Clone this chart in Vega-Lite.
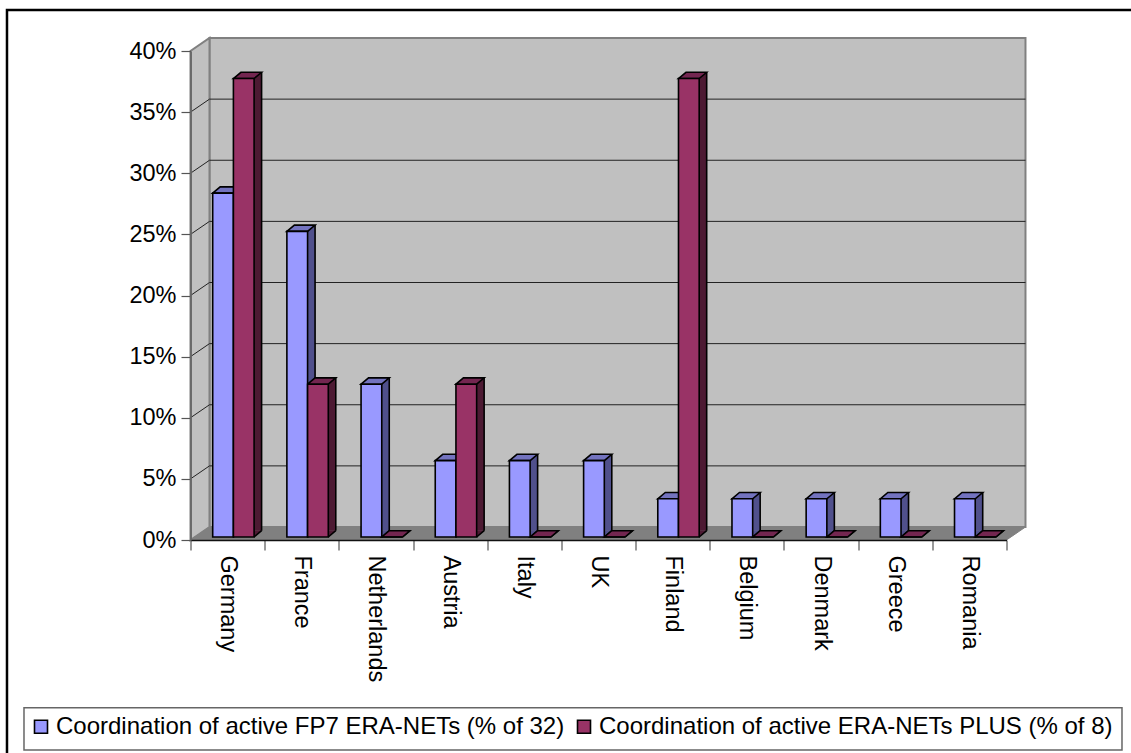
{
"$schema":"https://vega.github.io/schema/vega-lite/v6.json",
"width":816,"height":489,
"autosize":{"type":"none"},
"padding":{"left":190.5,"top":51,"right":124.5,"bottom":213},
"background":"white",
"config":{"view":{"stroke":null},"font":"Liberation Sans","legend":{"symbolStrokeWidth":1.6}},
"datasets":{
"bars":[
{"country":"Germany","series":"Coordination of active FP7 ERA-NETs (% of 32)","share":0.28125},
{"country":"Germany","series":"Coordination of active ERA-NETs PLUS (% of 8)","share":0.375},
{"country":"France","series":"Coordination of active FP7 ERA-NETs (% of 32)","share":0.25},
{"country":"France","series":"Coordination of active ERA-NETs PLUS (% of 8)","share":0.125},
{"country":"Netherlands","series":"Coordination of active FP7 ERA-NETs (% of 32)","share":0.125},
{"country":"Netherlands","series":"Coordination of active ERA-NETs PLUS (% of 8)","share":0},
{"country":"Austria","series":"Coordination of active FP7 ERA-NETs (% of 32)","share":0.0625},
{"country":"Austria","series":"Coordination of active ERA-NETs PLUS (% of 8)","share":0.125},
{"country":"Italy","series":"Coordination of active FP7 ERA-NETs (% of 32)","share":0.0625},
{"country":"Italy","series":"Coordination of active ERA-NETs PLUS (% of 8)","share":0},
{"country":"UK","series":"Coordination of active FP7 ERA-NETs (% of 32)","share":0.0625},
{"country":"UK","series":"Coordination of active ERA-NETs PLUS (% of 8)","share":0},
{"country":"Finland","series":"Coordination of active FP7 ERA-NETs (% of 32)","share":0.03125},
{"country":"Finland","series":"Coordination of active ERA-NETs PLUS (% of 8)","share":0.375},
{"country":"Belgium","series":"Coordination of active FP7 ERA-NETs (% of 32)","share":0.03125},
{"country":"Belgium","series":"Coordination of active ERA-NETs PLUS (% of 8)","share":0},
{"country":"Denmark","series":"Coordination of active FP7 ERA-NETs (% of 32)","share":0.03125},
{"country":"Denmark","series":"Coordination of active ERA-NETs PLUS (% of 8)","share":0},
{"country":"Greece","series":"Coordination of active FP7 ERA-NETs (% of 32)","share":0.03125},
{"country":"Greece","series":"Coordination of active ERA-NETs PLUS (% of 8)","share":0},
{"country":"Romania","series":"Coordination of active FP7 ERA-NETs (% of 32)","share":0.03125},
{"country":"Romania","series":"Coordination of active ERA-NETs PLUS (% of 8)","share":0}
],
"grid":[{"tick":0.05},{"tick":0.1},{"tick":0.15},{"tick":0.2},{"tick":0.25},{"tick":0.3},{"tick":0.35}],
"one":[{"n":1}]
},
"layer":[
{"data":{"name":"one"},
 "mark":{"type":"point","shape":"M-220.6,-530L912,-530L912,220L-220.6,220Z","size":4,"filled":true,"opacity":1,"fill":"white","stroke":"black","strokeWidth":2.5},
 "encoding":{
  "x":{"datum":"Germany","type":"nominal","scale":{"domain":["Germany","France","Netherlands","Austria","Italy","UK","Finland","Belgium","Denmark","Greece","Romania"],"paddingInner":0,"paddingOuter":0},
   "axis":{"title":null,"zindex":1,"bandPosition":0,"tickBand":"extent","domainColor":"#111111","domainWidth":1.5,"tickColor":"#555555","tickSize":10,"tickWidth":1.2,"labelAngle":90,"labelAlign":"left","labelBaseline":"middle","labelFont":"Liberation Sans","labelFontSize":23.5,"labelColor":"black","labelPadding":5,"labelLimit":300}},
  "y":{"datum":0,"type":"quantitative","scale":{"domain":[0,0.4]},
   "axis":{"title":null,"zindex":1,"values":[0,0.05,0.1,0.15,0.2,0.25,0.3,0.35,0.4],"format":".0%","grid":false,"domainColor":"#666666","domainWidth":1.8,"tickColor":"#555555","tickSize":9.5,"tickWidth":1.2,"labelFont":"Liberation Sans","labelFontSize":23.5,"labelColor":"black","labelPadding":5}}
 }},
{"data":{"name":"one"},
 "mark":{"type":"point","shape":"M-203.6,167.7L894.4,167.7L894.4,210L-203.6,210Z","size":4,"filled":true,"opacity":1,"fill":"white","stroke":"#666666","strokeWidth":1.5},
 "encoding":{"x":{"datum":"Germany","type":"nominal"},"y":{"datum":0,"type":"quantitative"}}},
{"data":{"name":"one"},
 "mark":{"type":"point","shape":"M-18.1,-13L797.9,-13L797.9,-502L-18.1,-502Z","size":4,"filled":true,"opacity":1,"fill":"#C0C0C0","stroke":"#808080","strokeWidth":2},
 "encoding":{"x":{"datum":"Germany","type":"nominal"},"y":{"datum":0,"type":"quantitative"}}},
{"data":{"name":"one"},
 "mark":{"type":"point","shape":"M-37.1,0L-18.1,-13L-18.1,-502L-37.1,-489Z","size":4,"filled":true,"opacity":1,"fill":"#C0C0C0","stroke":"#808080","strokeWidth":2},
 "encoding":{"x":{"datum":"Germany","type":"nominal"},"y":{"datum":0,"type":"quantitative"}}},
{"data":{"name":"one"},
 "mark":{"type":"point","shape":"M-37.1,0L-18.1,-13L797.9,-13L778.9,0Z","size":4,"filled":true,"opacity":1,"fill":"#808080","stroke":"#808080","strokeWidth":1},
 "encoding":{"x":{"datum":"Germany","type":"nominal"},"y":{"datum":0,"type":"quantitative"}}},
{"data":{"name":"grid"},
 "mark":{"type":"point","shape":"M-37.1,0L-18.1,-13L797.9,-13","size":4,"filled":false,"opacity":1,"stroke":"#222222","strokeWidth":1},
 "encoding":{"x":{"datum":"Germany","type":"nominal"},"y":{"field":"tick","type":"quantitative"}}},
{"data":{"name":"bars"},"transform":[{"filter":"indexof(datum.series,'FP7')>=0"}],
 "mark":{"type":"bar","width":7.5,"xOffset":9.55,"yOffset":-9.3,"y2Offset":-9.3,"fill":"#50508C","stroke":null},
 "encoding":{"x":{"field":"country","type":"nominal","sort":null},"y":{"field":"share","type":"quantitative"},"y2":{"datum":0}}},
{"data":{"name":"bars"},"transform":[{"filter":"indexof(datum.series,'FP7')>=0"}],
 "mark":{"type":"bar","width":1.6,"xOffset":13.3,"yOffset":-9.3,"y2Offset":-9.3,"fill":"black","stroke":null},
 "encoding":{"x":{"field":"country","type":"nominal","sort":null},"y":{"field":"share","type":"quantitative"},"y2":{"datum":0}}},
{"data":{"name":"bars"},"transform":[{"filter":"indexof(datum.series,'PLUS')>=0"}],
 "mark":{"type":"bar","width":7.5,"xOffset":30.25,"yOffset":-9.3,"y2Offset":-9.3,"fill":"#4D1A33","stroke":null},
 "encoding":{"x":{"field":"country","type":"nominal","sort":null},"y":{"field":"share","type":"quantitative"},"y2":{"datum":0}}},
{"data":{"name":"bars"},"transform":[{"filter":"indexof(datum.series,'PLUS')>=0 && datum.share>0"}],
 "mark":{"type":"bar","width":1.6,"xOffset":34,"yOffset":-9.3,"y2Offset":-9.3,"fill":"black","stroke":null},
 "encoding":{"x":{"field":"country","type":"nominal","sort":null},"y":{"field":"share","type":"quantitative"},"y2":{"datum":0}}},
{"data":{"name":"bars"},
 "mark":{"type":"point","shape":"M10.35,-3L17.85,-9.3L10.35,-9.3Z","size":4,"filled":true,"opacity":1,"strokeWidth":0},
 "encoding":{
  "x":{"field":"country","type":"nominal","sort":null},
  "xOffset":{"field":"series","type":"nominal","sort":null,"scale":{"type":"band","range":[22.2,63.6],"paddingInner":0,"paddingOuter":0}},
  "y":{"datum":0,"type":"quantitative"},
  "fill":{"condition":{"test":"indexof(datum.series,'FP7')>=0","value":"#50508C"},"value":"#4D1A33"}
 }},
{"data":{"name":"bars"},
 "mark":{"type":"point","shape":"M10.35,-3L17.85,-9.3","size":4,"filled":false,"opacity":1,"stroke":"black","strokeWidth":1.6},
 "encoding":{
  "x":{"field":"country","type":"nominal","sort":null},
  "xOffset":{"field":"series","type":"nominal","sort":null},
  "y":{"datum":0,"type":"quantitative"}
 }},
{"data":{"name":"bars"},
 "mark":{"type":"point","shape":"M-10.35,-3L-2.85,-9.3L17.85,-9.3L10.35,-3Z","size":4,"filled":true,"opacity":1,"stroke":"black","strokeWidth":1.6},
 "encoding":{
  "x":{"field":"country","type":"nominal","sort":null},
  "xOffset":{"field":"series","type":"nominal","sort":null},
  "y":{"field":"share","type":"quantitative"},
  "fill":{"condition":{"test":"indexof(datum.series,'FP7')>=0","value":"#7373BF"},"value":"#732650"}
 }},
{"data":{"name":"bars"},
 "mark":{"type":"bar","yOffset":-3,"y2Offset":-3,"stroke":"black","strokeWidth":1.6},
 "encoding":{
  "x":{"field":"country","type":"nominal","sort":null},
  "xOffset":{"field":"series","type":"nominal","sort":null},
  "y":{"field":"share","type":"quantitative"},"y2":{"datum":0},
  "fill":{"field":"series","type":"nominal","sort":null,
   "scale":{"domain":["Coordination of active FP7 ERA-NETs (% of 32)","Coordination of active ERA-NETs PLUS (% of 8)"],"range":["#9999FF","#993366"]},
   "legend":{"title":null,"orient":"none","legendX":-161.5,"legendY":663.7,"direction":"horizontal","columns":2,"columnPadding":7,"gridAlign":"each","padding":0,"symbolType":"square","symbolSize":169,"symbolStrokeColor":"black","labelFont":"Liberation Sans","labelFontSize":24,"labelColor":"black","labelLimit":700,"labelOffset":3}}
 }}
]
}
